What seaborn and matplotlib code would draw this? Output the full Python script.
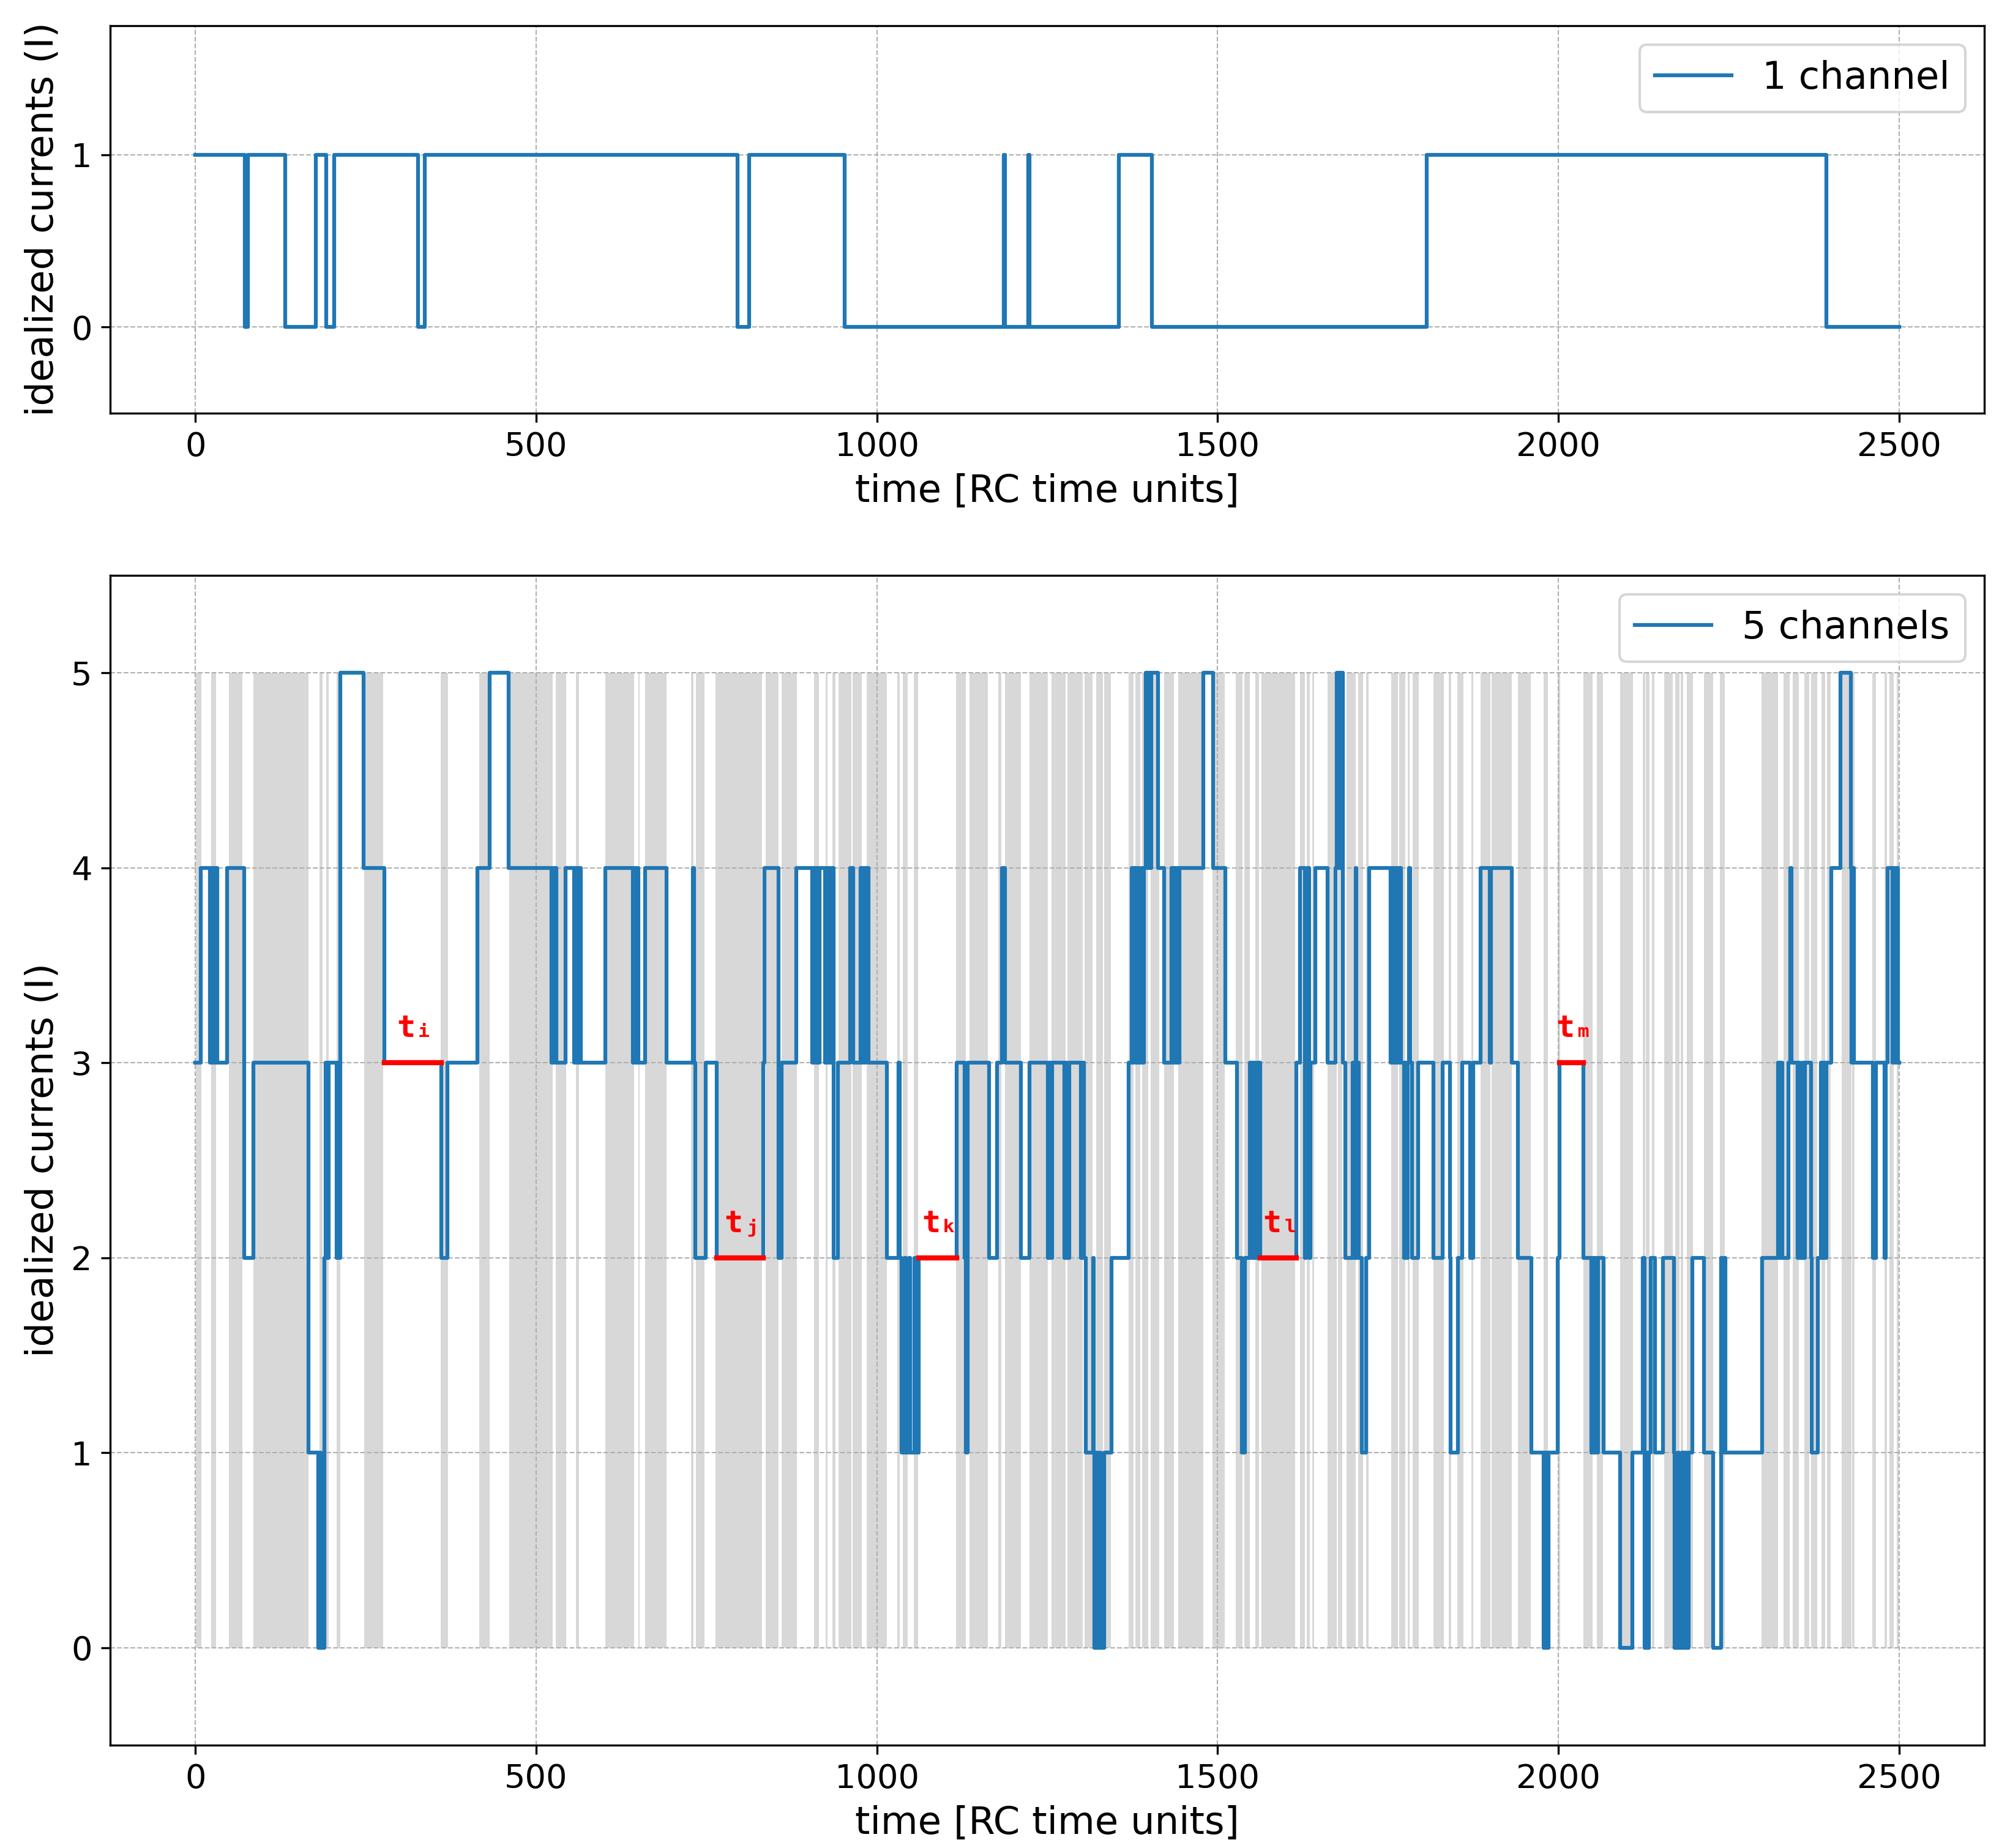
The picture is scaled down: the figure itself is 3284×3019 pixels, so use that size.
import numpy as np
import pandas as pd
import matplotlib
matplotlib.use("Agg")
import matplotlib.pyplot as plt
import seaborn as sns

# --- 1 channel trace: switching times and current level after each switch
t_one = [0, 73, 77, 132, 177, 192, 204, 327, 337, 796, 813, 953,
         1186, 1188, 1222, 1224, 1355, 1404, 1807, 2393, 2500]
i_one = [1, 0, 1, 0, 1, 0, 1, 0, 1, 0, 1, 0,
         1, 0, 1, 0, 1, 0, 1, 0, 0]

# --- 5 channel trace
t_five = [0, 8, 21, 23, 25, 27, 29, 31, 32, 47, 72, 85, 166, 180, 183, 184, 189, 191,
          193, 196, 207, 209, 211, 213, 247, 277, 361, 370, 414, 431.8, 459.7,
          523, 525, 527, 528, 530, 543.5, 555.5, 557, 559, 561, 563, 564.5, 566,
          601.8, 642, 644, 646, 648, 650, 660, 691.6, 730, 731.5, 733.5, 748.5, 765,
          833, 835, 856, 860, 881.7, 905.6, 908, 910, 912, 914, 916, 923.6, 926, 928,
          930, 932, 934, 937, 943, 961, 965, 976, 978, 980, 982, 984, 988,
          1015, 1032, 1034, 1036, 1041, 1043, 1047, 1049, 1055, 1057,
          1061, 1117, 1129, 1131, 1133, 1164.5, 1176.5, 1184, 1188.5,
          1211, 1224.4, 1251.3, 1253, 1255, 1257, 1275, 1277, 1279, 1282.7, 1299,
          1302, 1304, 1306.7, 1317, 1318.5, 1319, 1322, 1324, 1327, 1328, 1333.6,
          1344, 1369.5, 1374, 1376, 1378, 1380, 1383, 1385, 1388, 1390, 1392, 1395,
          1397, 1399, 1401, 1403, 1413, 1422, 1432.4, 1434, 1436, 1438, 1440, 1442,
          1444.4, 1478.8, 1493, 1511.7, 1528.2, 1535.6, 1540, 1547.6, 1549, 1551,
          1553, 1555, 1557, 1559, 1563, 1616, 1621, 1628.5, 1630, 1632, 1634, 1636,
          1643.4, 1661.3, 1673.3, 1674.8, 1676, 1678, 1680, 1682, 1683.7, 1687,
          1698.6, 1700, 1703, 1704, 1706, 1707.6, 1712, 1718, 1722.6, 1754, 1756,
          1758, 1761, 1764, 1766, 1769, 1773.5, 1775, 1777, 1779, 1781, 1782.5,
          1785.4, 1794.4, 1816.9, 1830.3, 1840.8, 1842.3, 1852.8, 1858.8, 1870.7,
          1875.2, 1885.7, 1899.5, 1901.5, 1932.1, 1941.1, 1960.5, 1978.5, 1981,
          1983, 1986, 1999.5, 2002, 2037, 2048.8, 2050.5, 2052, 2054, 2056, 2058,
          2066.8, 2090.7, 2108.7, 2123.6, 2126.6, 2129, 2131, 2133, 2135.6, 2141.6,
          2153.6, 2170, 2171, 2175, 2177, 2181, 2183, 2186, 2188, 2191, 2197,
          2213.4, 2226.9, 2238.9, 2241, 2243, 2244.9, 2298.7, 2322.7, 2325, 2327,
          2329, 2337.7, 2340, 2342, 2351, 2353, 2355, 2358, 2360, 2361.6, 2370.6,
          2372, 2381, 2385.5, 2387, 2389, 2391, 2393, 2400.5, 2414, 2428.9, 2430,
          2432, 2434, 2461.9, 2466.3, 2478.3, 2480, 2482.8, 2490.3, 2492, 2494,
          2496, 2498, 2500]
i_five = [3, 4, 3, 4, 3, 4, 3, 4, 3, 4, 2, 3, 1, 0, 1, 0, 2, 3,
          2, 3, 2, 3, 2, 5, 4, 3, 2, 3, 4, 5, 4,
          3, 4, 3, 4, 3, 4, 3, 4, 3, 4, 3, 4, 3,
          4, 3, 4, 3, 4, 3, 4, 3, 4, 3, 2, 3, 2,
          3, 4, 2, 3, 4, 3, 4, 3, 4, 3, 4, 3, 4, 3,
          4, 3, 4, 2, 3, 4, 3, 4, 3, 4, 3, 4, 3,
          2, 3, 2, 1, 2, 1, 2, 1, 2, 1,
          2, 3, 2, 1, 3, 2, 3, 4, 3,
          2, 3, 2, 3, 2, 3, 2, 3, 2, 3, 2,
          3, 2, 1, 2, 1, 0, 1, 0, 1, 0, 1,
          2, 3, 4, 3, 4, 3, 4, 3, 4, 3, 4, 5,
          4, 5, 4, 5, 4, 3, 4, 3, 4, 3, 4, 3,
          4, 5, 4, 3, 2, 1, 2, 3, 2, 3,
          2, 3, 2, 3, 2, 3, 4, 2, 3, 4, 2, 3,
          4, 3, 4, 5, 4, 5, 4, 5, 3, 2,
          3, 2, 4, 2, 3, 2, 1, 2, 4, 3, 4,
          3, 4, 3, 4, 3, 2, 3, 2, 3, 4, 3,
          2, 3, 2, 3, 2, 1, 2, 3, 2,
          3, 4, 3, 4, 3, 2, 1, 0, 1,
          0, 1, 2, 3, 2, 1, 2, 1, 2, 1, 2,
          1, 0, 1, 2, 0, 1, 0, 1, 2, 1,
          2, 1, 0, 1, 0, 1, 0, 1, 0, 1, 2,
          1, 0, 2, 1, 2, 1, 2, 3, 2, 3,
          2, 3, 4, 3, 2, 3, 2, 3, 2, 3, 2,
          1, 2, 3, 2, 3, 2, 3, 4, 5, 4, 3,
          4, 3, 2, 3, 2, 3, 4, 3, 4, 3,
          4, 3, 3]

# grey bands (start, end) in the 5 channel panel
band_start = [1, 23.6, 49.7, 85, 182, 192, 207, 248, 360, 416.3, 460.3, 528.5, 558.4,
              601.8, 650.3, 660.2, 727.6, 734.1, 763.5, 836.8, 860.7, 907.7, 925.1,
              934.7, 943.9, 964.6, 985.5, 1029.8, 1038.2, 1053.8, 1116.6, 1136.1, 1178,
              1188.5, 1223.8, 1256.7, 1279.7, 1305.2, 1321.6, 1333.6, 1369.5, 1379.4,
              1389.6, 1401.6, 1421.3, 1442.3, 1492.2, 1526.7, 1539.2, 1555, 1564, 1621,
              1630.8, 1638.9, 1661.3, 1676.2, 1688.8, 1706.7, 1717.5, 1754.6, 1766,
              1778.6, 1786.3, 1816.3, 1839.6, 1852.2, 1872.2, 1886.3, 1902.5, 1941.1,
              1978.5, 1999.4, 2036.6, 2056.3, 2090.7, 2123.6, 2128.1, 2137.7, 2155,
              2171.5, 2179.6, 2188.6, 2213.4, 2237.1, 2298.1, 2330.5, 2343.6, 2361,
              2370.6, 2386.1, 2393.9, 2415.5, 2431, 2460.3, 2478.3, 2485.8, 2496.3]
band_end = [8.7, 30.2, 69.1, 166, 187, 196, 213, 276, 371, 431.8, 524, 544.4, 563,
            643.7, 652.1, 691.6, 731.1, 747, 831.7, 856.2, 882.6, 914.6, 927.2,
            939.4, 962.5, 977.5, 1014.3, 1033.7, 1045.7, 1060.7, 1131, 1163, 1183,
            1211.5, 1251.3, 1276.7, 1302.2, 1316.5, 1332.1, 1343.5, 1376.4, 1386.6,
            1398, 1414.4, 1436.3, 1478.8, 1510.2, 1536.2, 1547.6, 1561, 1614, 1627.8,
            1635, 1641.9, 1674.7, 1682.8, 1702.5, 1713.6, 1721.7, 1764.5, 1775,
            1782.1, 1795.3, 1832.4, 1843.2, 1860.3, 1875.5, 1900.7, 1932.1, 1959.6,
            1985.1, 2003, 2050.3, 2065.9, 2109.6, 2127.5, 2133.5, 2140.7, 2167.6,
            2177.5, 2183.5, 2197.6, 2227.5, 2244.3, 2322.7, 2339.1, 2352.6, 2368.2,
            2380.1, 2391.5, 2399.9, 2429.8, 2434.9, 2465.7, 2481.9, 2491.8, 2499.3]

# marked dwell times
dwell_labels = ["t\u1d62", "t\u2c7c", "t\u2096", "t\u2097", "t\u2098"]
dwell_start = [277, 765, 1061, 1563, 2002]
dwell_end = [361, 833, 1117, 1616, 2037]
dwell_level = [3, 2, 2, 2, 3]

df_one = pd.DataFrame({"time": t_one, "current": i_one})
df_five = pd.DataFrame({"time": t_five, "current": i_five})

fig = plt.figure(figsize=(3284 / 300, 3019 / 300), dpi=300)
ax1 = fig.add_axes([0.0548, 0.7765, 0.9324, 0.2097])
ax2 = fig.add_axes([0.0548, 0.0556, 0.9324, 0.6331])

# top: single channel
sns.lineplot(data=df_one, x="time", y="current", drawstyle="steps-post",
             estimator=None, color="#1f77b4", lw=1.5, label="1 channel", ax=ax1)
ax1.set_ylim(-0.5, 1.75)
ax1.set_yticks([0, 1])

# bottom: five channels with grey bands
for a, b in zip(band_start, band_end):
    ax2.fill_between([a, b], 0, 5, color="grey", alpha=0.3, linewidth=0)
sns.lineplot(data=df_five, x="time", y="current", drawstyle="steps-post",
             estimator=None, color="#1f77b4", lw=1.5, label="5 channels", ax=ax2)
for lab, a, b, lev in zip(dwell_labels, dwell_start, dwell_end, dwell_level):
    ax2.plot([a, b], [lev, lev], color="red", lw=2)
    ax2.text((a + b) / 2 + 4, lev + 0.1, lab, color="red", fontsize=12, fontweight="bold",
             family=["DejaVu Sans Mono", "DejaVu Sans"], ha="center", va="bottom")
ax2.set_ylim(-0.5, 5.5)
ax2.set_yticks([0, 1, 2, 3, 4, 5])

for ax in (ax1, ax2):
    ax.set_xlim(-125, 2625)
    ax.set_xticks([0, 500, 1000, 1500, 2000, 2500])
    ax.grid(True, ls="--", lw=0.5)
    ax.set_xlabel("time [RC time units]", fontsize=15)
    ax.set_ylabel("idealized currents (I)", fontsize=15)
    ax.tick_params(labelsize=13)
    ax.legend(loc="upper right", fontsize=15)

fig.savefig("out.png", dpi=300)
